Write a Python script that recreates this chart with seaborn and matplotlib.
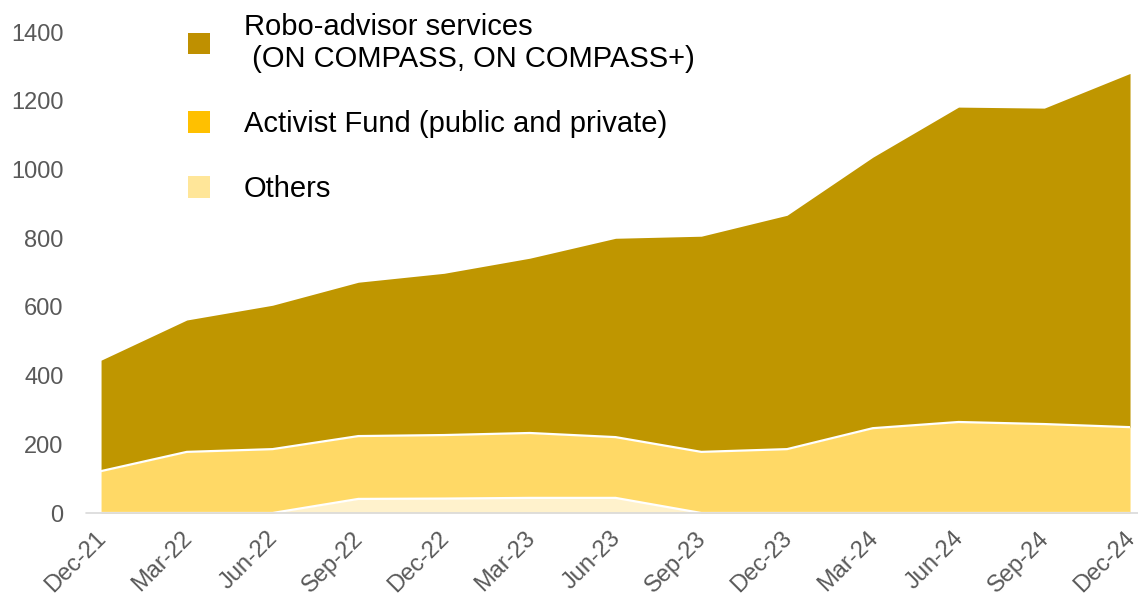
import matplotlib
matplotlib.use("Agg")
import matplotlib.pyplot as plt
from matplotlib.patches import Patch
from matplotlib.transforms import ScaledTranslation
import seaborn as sns
import pandas as pd
import numpy as np

# Quarterly assets by product line
quarters = ["Dec-21", "Mar-22", "Jun-22", "Sep-22", "Dec-22", "Mar-23", "Jun-23",
            "Sep-23", "Dec-23", "Mar-24", "Jun-24", "Sep-24", "Dec-24"]
others = [0, 0, 0, 41, 42, 44, 44, 0, 0, 0, 0, 0, 0]
activist = [122, 178, 186, 183, 185, 189, 177, 178, 186, 247, 265, 259, 250]
robo = [323, 384, 419, 448, 471, 509, 579, 628, 681, 789, 917, 920, 1030]

series_labels = ["Robo-advisor services\n (ON COMPASS, ON COMPASS+)",
                 "Activist Fund (public and private)",
                 "Others"]
y_ticks = [0, 200, 400, 600, 800, 1000, 1200, 1400]

area_colors = {"others": "#FFF2CC", "activist": "#FFD966", "robo": "#BF9600"}
legend_colors = ["#BF9000", "#FFC000", "#FFE699"]

sns.set_theme(style="white")
plt.rcParams["font.family"] = ["Liberation Sans", "DejaVu Sans"]

df = pd.DataFrame({"quarter": quarters, "others": others,
                   "activist": activist, "robo": robo})
df["x"] = np.arange(len(df))
df["lvl1"] = df["others"]
df["lvl2"] = df["lvl1"] + df["activist"]
df["lvl3"] = df["lvl2"] + df["robo"]

fig = plt.figure(figsize=(11.38, 5.97), dpi=100)
ax = fig.add_axes([0.0888, 0.1407, 0.9042, 0.8053])

ax.fill_between(df["x"], 0, df["lvl1"], color=area_colors["others"], lw=0)
ax.fill_between(df["x"], df["lvl1"], df["lvl2"], color=area_colors["activist"], lw=0)
ax.fill_between(df["x"], df["lvl2"], df["lvl3"], color=area_colors["robo"], lw=0)

# white separators between stacked layers
sns.lineplot(data=df, x="x", y="lvl1", ax=ax, color="white", lw=1.6)
sns.lineplot(data=df, x="x", y="lvl2", ax=ax, color="white", lw=1.6)

ax.set_xlim(0, len(df) - 1)
ax.set_ylim(0, 1400)
ax.set_xlabel("")
ax.set_ylabel("")
ax.set_yticks(y_ticks)
ax.set_yticklabels([str(v) for v in y_ticks])
ax.set_xticks(df["x"])
ax.set_xticklabels(quarters, rotation=45, ha="right", va="center",
                   rotation_mode="anchor")
ax.tick_params(axis="y", labelsize=17, labelcolor="#595959", length=0, pad=27)
ax.tick_params(axis="x", labelsize=17, labelcolor="#595959", length=0, pad=16)
shift = ScaledTranslation(2 / 100, 0, fig.dpi_scale_trans)
for lbl in ax.get_xticklabels():
    lbl.set_transform(lbl.get_transform() + shift)
for s in ax.spines.values():
    s.set_visible(False)
ax.grid(False)

ax.axhline(0, xmin=-0.0146, xmax=1.008, color="#D9D9D9", lw=1.2, clip_on=False)

handles = [Patch(facecolor=c, edgecolor="none") for c in legend_colors]
leg = ax.legend(handles, series_labels, loc="upper left",
                bbox_to_anchor=(0.1475, 1.013), bbox_transform=fig.transFigure,
                frameon=False, fontsize=21, handlelength=0.76, handleheight=0.76,
                handletextpad=1.15, labelspacing=1.27, borderpad=0.2)
for t in leg.get_texts():
    t.set_color("black")

fig.savefig("out.png", dpi=100)
